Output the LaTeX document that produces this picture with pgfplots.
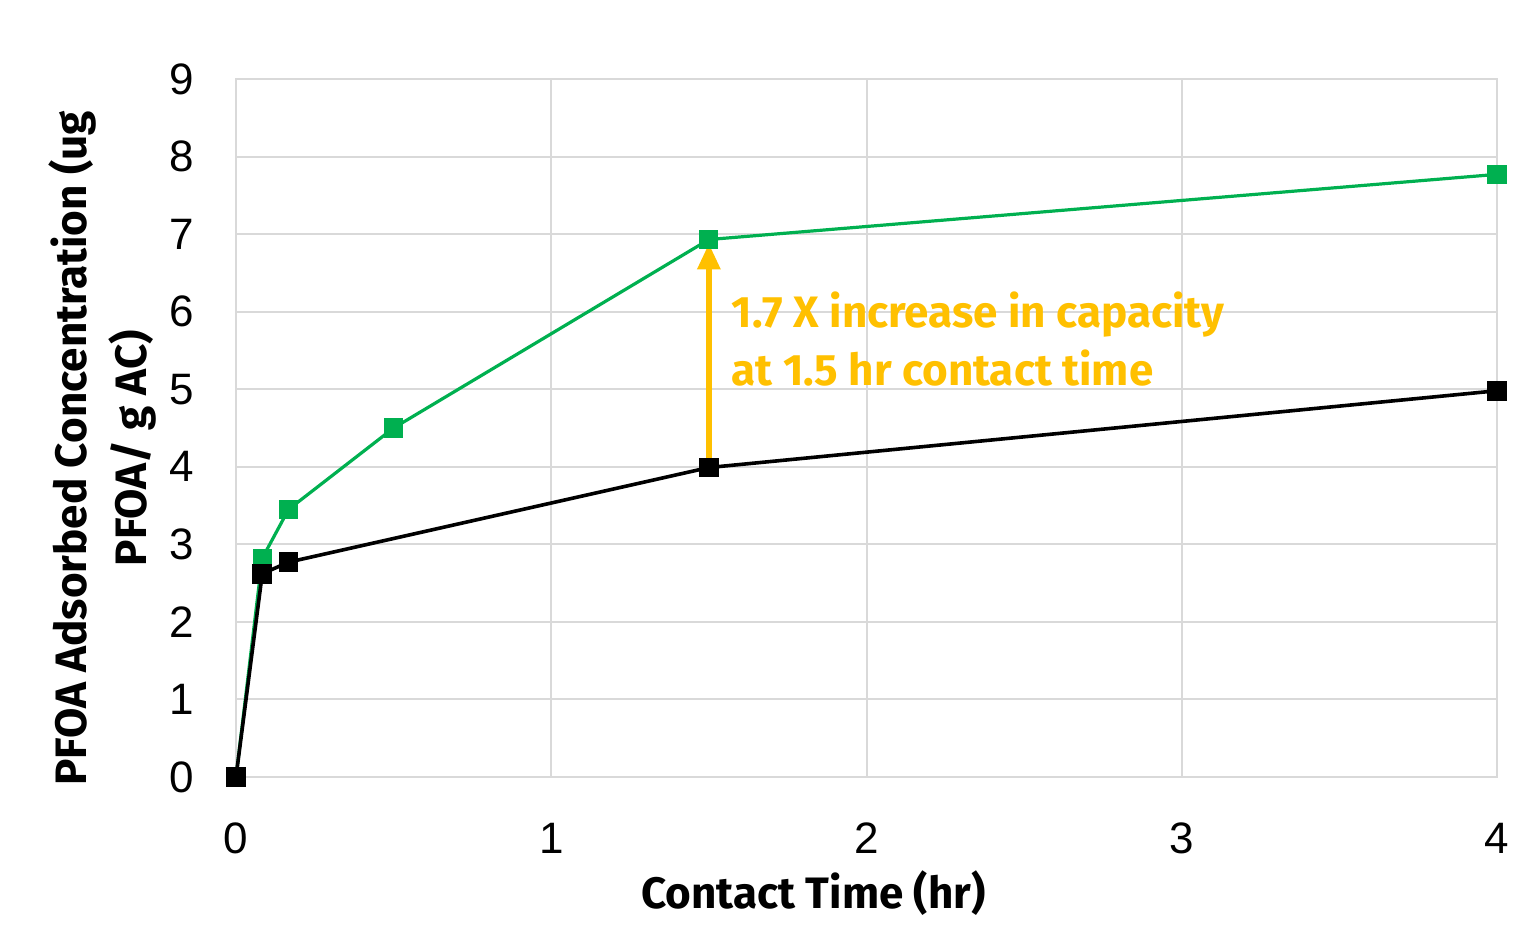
\documentclass[border=0pt]{standalone}
\usepackage{pgfplots}
\pgfplotsset{compat=1.18}
\usepackage{fontspec}
\setmainfont{Liberation Sans}
\newfontfamily\labfont{Fira Sans}
\usetikzlibrary{arrows.meta}
\definecolor{pgreen}{HTML}{00B050}
\definecolor{pgold}{HTML}{FFC000}
\definecolor{gridc}{HTML}{D9D9D9}
\begin{document}
\begin{tikzpicture}
\begin{axis}[
  name=ax,
  scale only axis,
  width=315.25pt, height=174.5pt,
  xmin=0, xmax=4, ymin=0, ymax=9,
  xtick={0,1,2,3,4}, ytick={0,1,...,9},
  grid=major,
  major grid style={gridc, line width=0.5pt},
  axis line style={gridc, line width=0.6pt},
  major tick length=0pt,
  tick label style={font=\fontsize{11}{12}\selectfont},
  /pgf/number format/assume math mode=true,
  yticklabel style={xshift=-7pt},
  xticklabel style={yshift=-8pt},
  xlabel={Contact Time (hr)},
  xlabel style={at={(axis description cs:0.458,-0.166)}, anchor=center, font=\labfont\bfseries\fontsize{11}{13}\selectfont},
  ylabel={PFOA Adsorbed Concentration (ug\\PFOA/ g AC)},
  ylabel style={at={(axis description cs:-0.106,0.471)}, anchor=center, align=center, rotate=0, font=\labfont\bfseries\fontsize{11}{15}\selectfont},
  clip=false,
]
\addplot[pgreen, line width=0.8pt, mark=square*, mark size=2pt, mark options={solid, fill=pgreen, draw=pgreen}]
  coordinates {(0,0) (0.0833,2.82) (0.1667,3.45) (0.5,4.5) (1.5,6.93) (4,7.77)};
\addplot[black, line width=0.9pt, mark=square*, mark size=2pt, mark options={solid, fill=black}]
  coordinates {(0,0) (0.0833,2.62) (0.1667,2.77) (1.5,3.99) (4,4.98)};
\draw[pgold, line width=1.5pt, -{Triangle[width=5.5pt,length=6.5pt]}] (axis cs:1.5,4.07) -- (axis cs:1.5,6.88);
\node[anchor=base west, inner sep=0pt, text=pgold, font=\labfont\bfseries\fontsize{11}{13}\selectfont] at (axis cs:1.57,5.79) {1.7 X increase in capacity};
\node[anchor=base west, inner sep=0pt, text=pgold, font=\labfont\bfseries\fontsize{11}{13}\selectfont] at (axis cs:1.57,5.05) {at 1.5 hr contact time};
\end{axis}
\pgfresetboundingbox
\useasboundingbox ([shift={(-59pt,-38.25pt)}]ax.south west) rectangle ([shift={(6.75pt,19.75pt)}]ax.north east);
\end{tikzpicture}
\end{document}
